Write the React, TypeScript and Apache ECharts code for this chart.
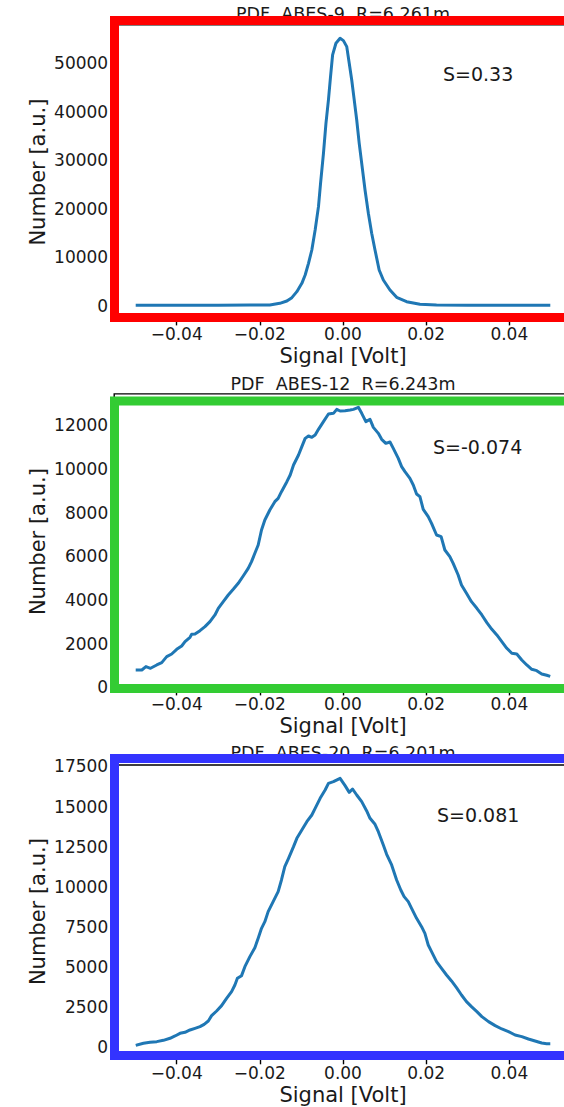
import React, { useEffect, useRef } from 'react';
import * as echarts from 'echarts';

// ---- Data ----
const p1X = [-0.0495, -0.04, -0.03, -0.0224, -0.0176, -0.0152, -0.0135, -0.0123, -0.0111, -0.0099, -0.0091, -0.0083, -0.0075, -0.0067, -0.0059, -0.0054, -0.0047, -0.0041, -0.0035, -0.003, -0.0025, -0.0017, -0.0007, 0.0001, 0.0009, 0.0015, 0.0021, 0.0026, 0.0033, 0.0039, 0.0046, 0.0053, 0.0061, 0.0069, 0.0077, 0.0087, 0.0097, 0.0113, 0.0129, 0.0153, 0.0185, 0.0225, 0.03, 0.04, 0.0495];
const p1Y = [150, 150, 170, 200, 210, 549, 1030, 1717, 2953, 4670, 6386, 8790, 11537, 15657, 20464, 25271, 31452, 37633, 42439, 47246, 51710, 54114, 55144, 54663, 53427, 49994, 46559, 43126, 38319, 33512, 28704, 23898, 19091, 14971, 11537, 7417, 5356, 3296, 1786, 893, 343, 206, 170, 150, 150];

const p2X = [-0.0495, -0.0484, -0.0474, -0.0463, -0.0448, -0.0436, -0.0424, -0.0412, -0.04, -0.0388, -0.038, -0.0368, -0.0364, -0.0356, -0.0344, -0.0332, -0.032, -0.0308, -0.03, -0.0288, -0.0276, -0.0264, -0.0252, -0.024, -0.0228, -0.022, -0.0212, -0.0204, -0.0196, -0.0188, -0.0176, -0.0164, -0.0156, -0.0148, -0.0135, -0.0127, -0.0119, -0.0107, -0.0099, -0.0091, -0.0083, -0.0075, -0.0067, -0.0059, -0.0047, -0.0035, -0.0023, -0.0015, -0.0007, 0.0005, 0.0017, 0.0025, 0.0037, 0.0045, 0.0055, 0.0065, 0.0073, 0.0085, 0.0093, 0.0103, 0.0113, 0.0121, 0.0133, 0.0141, 0.0149, 0.0161, 0.0169, 0.0177, 0.0185, 0.0193, 0.0205, 0.0213, 0.0225, 0.0236, 0.0245, 0.0257, 0.0265, 0.0277, 0.0285, 0.0297, 0.0309, 0.0322, 0.0334, 0.0346, 0.0358, 0.037, 0.0382, 0.0394, 0.0406, 0.0418, 0.043, 0.0442, 0.0454, 0.0466, 0.0478, 0.049, 0.0495];
const p2Y = [800, 800, 953, 877, 1029, 1136, 1410, 1532, 1746, 1898, 2097, 2295, 2432, 2447, 2600, 2783, 3012, 3317, 3622, 3926, 4231, 4491, 4765, 5101, 5451, 5756, 6138, 6519, 7205, 7662, 8120, 8501, 8654, 8958, 9416, 9721, 10178, 10636, 11017, 11398, 11505, 11444, 11551, 11810, 12161, 12511, 12542, 12725, 12649, 12664, 12694, 12725, 12817, 12542, 12161, 12267, 11901, 11627, 11353, 11170, 11231, 10941, 10483, 10102, 9873, 9569, 9264, 8852, 8730, 8150, 7815, 7510, 6976, 6900, 6290, 5985, 5680, 5146, 4689, 4308, 3926, 3622, 3317, 2966, 2661, 2402, 2097, 1792, 1563, 1532, 1258, 1029, 831, 770, 618, 557, 526];

const p3X = [-0.0495, -0.048, -0.0464, -0.0448, -0.0432, -0.0416, -0.0404, -0.0392, -0.038, -0.0368, -0.0356, -0.0344, -0.0334, -0.0324, -0.0316, -0.0304, -0.0292, -0.028, -0.0268, -0.026, -0.0254, -0.0244, -0.0236, -0.0224, -0.0212, -0.0204, -0.0196, -0.0188, -0.018, -0.0168, -0.0156, -0.0148, -0.014, -0.0131, -0.0119, -0.0111, -0.0099, -0.0087, -0.0075, -0.0067, -0.0055, -0.0043, -0.0035, -0.0023, -0.0007, 0.0005, 0.0015, 0.0023, 0.0033, 0.0045, 0.0057, 0.0065, 0.0077, 0.0085, 0.0097, 0.0105, 0.0117, 0.0129, 0.0139, 0.0147, 0.0157, 0.0165, 0.0177, 0.0189, 0.0197, 0.0205, 0.0213, 0.0225, 0.0237, 0.0249, 0.0261, 0.0273, 0.0285, 0.0297, 0.0309, 0.0322, 0.0334, 0.035, 0.0366, 0.0382, 0.0398, 0.0414, 0.043, 0.0446, 0.0462, 0.0478, 0.049, 0.0495];
const p3Y = [156, 259, 322, 363, 446, 571, 716, 882, 944, 1090, 1193, 1297, 1442, 1650, 1982, 2273, 2605, 3061, 3477, 3892, 4307, 4473, 5033, 5656, 6216, 6797, 7420, 7835, 8458, 9081, 9703, 10430, 11260, 11779, 12505, 13024, 13543, 14062, 14477, 14892, 15515, 16034, 16449, 16552, 16760, 16303, 15888, 16096, 15722, 15307, 14726, 14270, 13896, 13439, 12609, 12028, 11364, 10430, 9807, 9392, 9081, 8666, 8043, 7524, 7109, 6382, 5967, 5344, 4930, 4514, 4141, 3725, 3269, 2854, 2542, 2231, 1920, 1608, 1359, 1152, 986, 778, 674, 529, 405, 280, 239, 239];

const xTicks = [-0.04, -0.02, 0, 0.02, 0.04];
const yTicks1 = [0, 10000, 20000, 30000, 40000, 50000];
const yTicks2 = [0, 2000, 4000, 6000, 8000, 10000, 12000];
const yTicks3 = [0, 2500, 5000, 7500, 10000, 12500, 15000, 17500];

const titles = ['PDF  ABES-9  R=6.261m', 'PDF  ABES-12  R=6.243m', 'PDF  ABES-20  R=6.201m'];
const skews = ['S=0.33', 'S=-0.074', 'S=0.081'];
const xLabel = 'Signal [Volt]';
const yLabel = 'Number [a.u.]';

// ---- Layout / styles ----
const FONT = 'DejaVu Sans';
const TXT = '#1a1a1a';
const GRID_LEFT = 114.2;
const PX_PER_UNIT = 4157.5; // horizontal scale of the reference
const ZERO_X = 343; // pixel of x = 0 (centre of the original axes)
const GRID_WIDTH = 640; // right spine is outside the picture
const X_MIN = (GRID_LEFT - ZERO_X) / PX_PER_UNIT;
const X_MAX = (GRID_LEFT + GRID_WIDTH - ZERO_X) / PX_PER_UNIT;
const Y_NAME_X = 38;

const layout = [
  { top: 24.9, height: 294.5, yMin: -2760, yMax: 57900, titleY: 13.5, xNameY: 356, sX: 443, sY: 74, frame: '#ff0000', fTop: 20.5, fH: 297 },
  { top: 393.9, height: 295.5, yMin: -89, yMax: 13432, titleY: 383.7, xNameY: 725.5, sX: 433, sY: 446.7, frame: '#33cc33', fTop: 401, fH: 287.5 },
  { top: 765, height: 293.3, yMin: -674, yMax: 17590, titleY: 753, xNameY: 1094.5, sX: 437, sY: 815.3, frame: '#3333ff', fTop: 758.5, fH: 297 },
];

const seriesX = [p1X, p2X, p3X];
const seriesY = [p1Y, p2Y, p3Y];
const yTicks = [yTicks1, yTicks2, yTicks3];

const fmtX = (v: number) => {
  const s = Math.abs(v).toFixed(2);
  return v < -1e-9 ? '\u2212' + s : s;
};

export default function App() {
  const ref = useRef<HTMLDivElement>(null);

  useEffect(() => {
    if (!ref.current) return;
    const chart = echarts.init(ref.current, undefined, { renderer: 'svg' });

    const grids = layout.map((l) => ({
      left: GRID_LEFT,
      width: GRID_WIDTH,
      top: l.top,
      height: l.height,
      containLabel: false,
      outerBoundsMode: 'none',
      show: true,
      borderColor: '#000',
      borderWidth: 1.4,
      backgroundColor: 'transparent',
    }));

    const xAxes = layout.map((l, i) => ({
      type: 'value',
      gridIndex: i,
      min: X_MIN,
      max: X_MAX,
      axisLine: { show: false, onZero: false },
      splitLine: { show: false },
      axisTick: { show: true, inside: false, length: 6, customValues: xTicks, lineStyle: { color: '#000', width: 1.4 } },
      axisLabel: { show: true, customValues: xTicks, formatter: fmtX, fontSize: 17, fontFamily: FONT, color: TXT, margin: 6 },
    }));

    const yAxes = layout.map((l, i) => ({
      type: 'value',
      gridIndex: i,
      min: l.yMin,
      max: l.yMax,
      axisLine: { show: false, onZero: false },
      splitLine: { show: false },
      axisTick: { show: true, inside: false, length: 4, customValues: yTicks[i], lineStyle: { color: '#000', width: 1.4 } },
      axisLabel: { show: true, customValues: yTicks[i], formatter: (v: number) => String(Math.round(v)), fontSize: 17, fontFamily: FONT, color: TXT, margin: 6 },
    }));

    const series = layout.map((l, i) => ({
      type: 'line',
      xAxisIndex: i,
      yAxisIndex: i,
      data: seriesX[i].map((x, k) => [x, seriesY[i][k]]),
      showSymbol: false,
      symbol: 'none',
      smooth: false,
      lineStyle: { color: '#1f77b4', width: 3, cap: 'square', join: 'round' },
      z: 3,
    }));

    const txt = (text: string, x: number, y: number, size: number, align: string, z: number, rotation = 0) => ({
      type: 'text',
      z,
      x,
      y,
      rotation,
      style: {
        text,
        fill: TXT,
        fontSize: size,
        fontFamily: FONT,
        textAlign: align,
        textVerticalAlign: 'middle',
        align,
        verticalAlign: 'middle',
      },
    });

    const graphics: any[] = [];
    layout.forEach((l, i) => {
      graphics.push(txt(titles[i], ZERO_X, l.titleY, 17.5, 'center', 1));
      graphics.push(txt(xLabel, ZERO_X, l.xNameY, 21, 'center', 1));
      graphics.push(txt(yLabel, Y_NAME_X, l.top + l.height / 2, 21, 'center', 1, Math.PI / 2));
      graphics.push(txt(skews[i], l.sX, l.sY, 19, 'left', 5));
      graphics.push({
        type: 'rect',
        z: 100,
        shape: { x: 114.5, y: l.fTop, width: 700, height: l.fH },
        style: { fill: 'none', stroke: l.frame, lineWidth: 9 },
      });
    });

    chart.setOption({
      animation: false,
      backgroundColor: '#ffffff',
      grid: grids,
      xAxis: xAxes,
      yAxis: yAxes,
      series,
      graphic: { elements: graphics },
    } as any);

    return () => chart.dispose();
  }, []);

  return (
    <div
      ref={ref}
      style={{ position: 'absolute', left: 0, top: 0, width: 564, height: 1107, background: '#fff' }}
    />
  );
}
